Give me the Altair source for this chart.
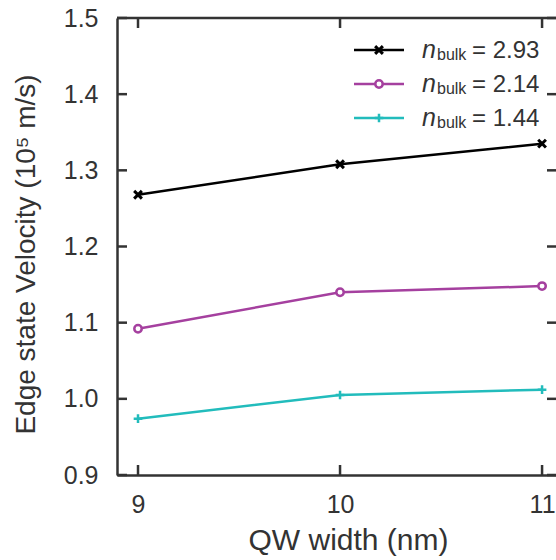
import altair as alt
import pandas as pd

widths = [9, 10, 11]
n293 = [1.268, 1.308, 1.335]
n214 = [1.092, 1.140, 1.148]
n144 = [0.974, 1.005, 1.012]
series_names = ["2.93", "2.14", "1.44"]
series_vals = [n293, n214, n144]
colors = ["#000000", "#a5409f", "#22bcbc"]
yticks = [0.9, 1.0, 1.1, 1.2, 1.3, 1.4, 1.5]
xticks = [9, 10, 11]

W, H = 439, 457
FONT = "Liberation Sans"
AX = "#333333"

rows = []
for name, vals in zip(series_names, series_vals):
    for w, v in zip(widths, vals):
        rows.append({"series": name, "w": w, "v": v})
df = pd.DataFrame(rows)

xs = alt.Scale(domain=[8.896, 11.069], nice=False, zero=False)
ys = alt.Scale(domain=[0.9, 1.5], nice=False, zero=False)

X = alt.X("w:Q", scale=xs,
          axis=alt.Axis(values=xticks, format="d", title="QW width (nm)", ticks=False,
                        domainColor=AX, domainWidth=2.5, labelFontSize=25, titleFontSize=30,
                        labelFont=FONT, titleFont=FONT, labelColor=AX, titleColor=AX,
                        labelPadding=17, titlePadding=8, grid=False, titleFontWeight="normal",
                        titleX=231))
Y = alt.Y("v:Q", scale=ys,
          axis=alt.Axis(values=yticks, format=".1f", title="Edge state Velocity (10⁵ m/s)",
                        ticks=False, domainColor=AX, domainWidth=2.5, labelFontSize=25,
                        titleFontSize=28, labelFont=FONT, titleFont=FONT, labelColor=AX,
                        titleColor=AX, labelPadding=19, grid=False,
                        titleFontWeight="normal", titleX=-77, titleY=236))

cscale = alt.Scale(domain=series_names, range=colors)

lines = alt.Chart(df).mark_line(strokeWidth=2.5).encode(
    x=X, y=Y, color=alt.Color("series:N", scale=cscale, legend=None), detail="series:N")

shapes = ["M-1,-1L1,1M-1,1L1,-1", "circle", "M-1,0L1,0M0,-1L0,1"]
sizes = [60, 55, 75]
layers = [lines]
for name, col, shp, sz in zip(series_names, colors, shapes, sizes):
    sub = df[df.series == name]
    if shp == "circle":
        m = alt.Chart(sub).mark_point(shape="circle", size=sz, stroke=col, fill="white",
                                      filled=False, strokeWidth=2.5, opacity=1, fillOpacity=1)
    else:
        m = alt.Chart(sub).mark_point(shape=shp, size=sz, stroke=col, filled=False,
                                      strokeWidth=3 if name == "2.93" else 2.5, opacity=1)
    layers.append(m.encode(x=alt.X("w:Q", scale=xs), y=alt.Y("v:Q", scale=ys)))

# frame top line
tdf = pd.DataFrame({"t": [0]})
layers.append(alt.Chart(tdf).mark_rule(color=AX, strokeWidth=2.5).encode(
    x=alt.value(0), x2=alt.value(W), y=alt.value(0)))

# inward ticks
ytdf = pd.DataFrame({"v": yticks})
xtdf = pd.DataFrame({"w": xticks})
layers.append(alt.Chart(ytdf).mark_rule(color=AX, strokeWidth=2.5).encode(
    y=alt.Y("v:Q", scale=ys), x=alt.value(0), x2=alt.value(10)))
layers.append(alt.Chart(ytdf).mark_rule(color=AX, strokeWidth=2.5).encode(
    y=alt.Y("v:Q", scale=ys), x=alt.value(W - 9), x2=alt.value(W)))
layers.append(alt.Chart(xtdf).mark_rule(color=AX, strokeWidth=2.5).encode(
    x=alt.X("w:Q", scale=xs), y=alt.value(H), y2=alt.value(H - 10)))
layers.append(alt.Chart(xtdf).mark_rule(color=AX, strokeWidth=2.5).encode(
    x=alt.X("w:Q", scale=xs), y=alt.value(0), y2=alt.value(10)))

# legend
leg_y = [32, 66, 100]
for i, (name, col, shp, sz) in enumerate(zip(series_names, colors, shapes, sizes)):
    ld = pd.DataFrame({"label": ["= " + name]})
    ly = leg_y[i]
    layers.append(alt.Chart(ld).mark_rule(color=col, strokeWidth=2.5).encode(
        x=alt.value(237), x2=alt.value(287), y=alt.value(ly)))
    if shp == "circle":
        pm = alt.Chart(ld).mark_point(shape="circle", size=sz, stroke=col, fill="white",
                                      filled=False, strokeWidth=2.5, opacity=1, fillOpacity=1)
    else:
        pm = alt.Chart(ld).mark_point(shape=shp, size=sz, stroke=col, filled=False,
                                      strokeWidth=3 if i == 0 else 2.5, opacity=1)
    layers.append(pm.encode(x=alt.value(262), y=alt.value(ly)))
    layers.append(alt.Chart(ld).mark_text(text="n", font=FONT, fontSize=25, fontStyle="italic",
                                          color=AX, align="left", baseline="alphabetic").encode(
        x=alt.value(305), y=alt.value(ly + 8)))
    layers.append(alt.Chart(ld).mark_text(text="bulk", font=FONT, fontSize=16,
                                          color=AX, align="left", baseline="alphabetic").encode(
        x=alt.value(320), y=alt.value(ly + 10)))
    layers.append(alt.Chart(ld).mark_text(font=FONT, fontSize=24, color=AX, align="left",
                                          baseline="alphabetic").encode(
        x=alt.value(355), y=alt.value(ly + 8), text="label:N"))

chart = alt.layer(*layers).properties(
    width=W, height=H,
    autosize=alt.AutoSizeParams(type="none"),
    padding={"left": 117, "top": 18, "right": 0, "bottom": 85},
).configure_view(stroke=None).configure(background="white")

chart.save("out.html", embed_options={"renderer": "svg", "actions": False})
